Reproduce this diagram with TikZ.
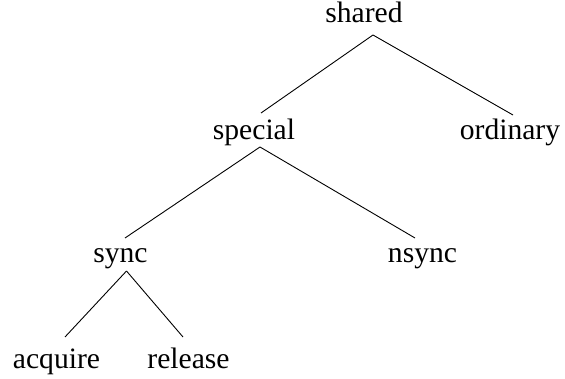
\documentclass[tikz,border=0pt]{standalone}
\usepackage{fontspec}
\setmainfont{Liberation Serif}
\usetikzlibrary{calc}
\begin{document}
\begin{tikzpicture}[x=1pt,y=-1pt,
  lbl/.style={anchor=base,inner sep=0pt,font=\fontsize{29.6}{36}\selectfont},
  edge/.style={line width=0.9pt,black}]
\useasboundingbox (0,0) rectangle (565,379);
\node[lbl] (shared)   at (364,23)    {shared};
\node[lbl] (special)  at (254,140)   {special};
\node[lbl] (ordinary) at (510,140)   {ordinary};
\node[lbl] (sync)     at (120.5,263) {sync};
\node[lbl] (nsync)    at (422.5,263) {nsync};
\node[lbl] (acquire)  at (56.5,368)  {acquire};
\node[lbl] (release)  at (188.5,368) {release};
\draw[edge] ($(shared.base)+(9,12)$) -- ($(special.base)+(7,-27)$);
\draw[edge] ($(shared.base)+(9,12)$) -- ($(ordinary.base)+(3,-25)$);
\draw[edge] ($(special.base)+(6,7)$) -- ($(sync.base)+(4.5,-25)$);
\draw[edge] ($(special.base)+(6,7)$) -- ($(nsync.base)+(-7.5,-25)$);
\draw[edge] ($(sync.base)+(6,8)$) -- ($(acquire.base)+(8.5,-31)$);
\draw[edge] ($(sync.base)+(6,8)$) -- ($(release.base)+(-5.5,-31)$);
\end{tikzpicture}
\end{document}
